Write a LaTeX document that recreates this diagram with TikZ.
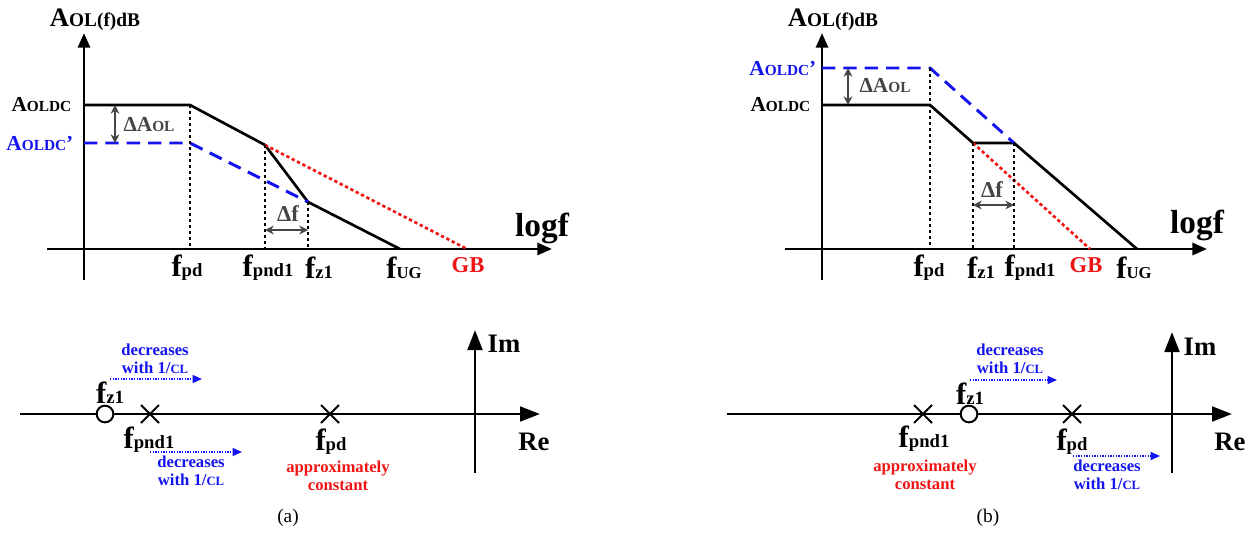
\documentclass[tikz,border=0pt]{standalone}
\usepackage{fontspec}
\setmainfont{Liberation Serif}
\usetikzlibrary{arrows.meta,positioning,shapes.misc}
\definecolor{pblue}{HTML}{1414F0}
\definecolor{pred}{HTML}{F01414}
\definecolor{dgray}{HTML}{454545}
\newcommand{\sm}[2]{{\fontsize{#1}{#1}\selectfont #2}}
\newcommand{\fsub}[1]{f\sm{14}{#1}}
\newcommand{\Aoldc}{A\sm{11.5}{OLDC}}
\newcommand{\decr}{decreases\\with 1/\sm{9.5}{CL}}

\begin{document}
\begin{tikzpicture}[x=0.75pt,y=-0.75pt,
  ax/.style={line width=2.2pt,-{Triangle[length=11pt,width=9pt]}},
  cplane/.style={line width=2.2pt,-{Triangle[length=15pt,width=11pt]}},
  resp/.style={line width=2pt},
  guide/.style={line width=1.6pt,dash pattern=on 2.5pt off 2pt},
  shifted/.style={pblue,line width=2.2pt,dash pattern=on 10pt off 6pt},
  gbline/.style={pred,line width=2pt,dash pattern=on 2.5pt off 2pt},
  delta/.style={dgray,line width=1.6pt,{Stealth[length=6.5pt,width=6.5pt]}-{Stealth[length=6.5pt,width=6.5pt]}},
  move/.style={pblue,line width=1pt,dash pattern=on 1pt off 1pt,-{Triangle[length=7pt,width=6pt]}},
  tick/.style={font=\fontsize{23}{25}\selectfont\bfseries},
  lvl/.style={font=\fontsize{16}{18}\selectfont\bfseries},
  ttl/.style={font=\fontsize{20}{22}\selectfont\bfseries},
  axl/.style={font=\fontsize{20}{22}\selectfont\bfseries},
  logl/.style={font=\fontsize{25}{27}\selectfont\bfseries},
  note/.style={font=\fontsize{12.5}{13.5}\selectfont\bfseries,align=center},
  caption/.style={font=\fontsize{14.5}{16}\selectfont},
  pole/.style={cross out,draw,line width=1.5pt,minimum size=12pt,inner sep=0pt},
  zero/.style={circle,draw,line width=1.5pt,fill=white,minimum size=12.5pt,inner sep=0pt}
]
\useasboundingbox (0,0) rectangle (1256,533);

% (a) magnitude plot
\coordinate (a0) at (84,249);
\draw[ax] (84,280) -- (84,33);
\draw[ax] (47,249) -- (552,249);
\node[ttl] (ttla) at (95,20) {A\sm{14.5}{OL(f)dB}};
\node[logl] (logfa) at (542,228) {logf};
\coordinate (a1) at (190,105);
\coordinate (a2) at (265,145);
\coordinate (a3) at (308,202);
\coordinate (a4) at (400,249);
\coordinate (agb) at (467,249);
\draw[resp] (84,105) -- (a1) -- (a2) -- (a3) -- (a4);
\draw[shifted] (84,143) -- (190,143) -- (a3);
\draw[gbline] (a2) -- (agb);
\foreach \p in {a1,a2,a3}
  \draw[guide] (\p) -- (\p |- a0);
\node[lvl,anchor=east] (dca) at (76,105) {\Aoldc};
\node[lvl,anchor=east,pblue] (dcpa) at (78,143) {\Aoldc’};
\draw[delta] (115,105) -- (115,143);
\node[lvl,dgray] (dAa) at (149,125) {ΔA\sm{11.5}{OL}};
\draw[delta] (a2 |- 0,230) -- (a3 |- 0,230);
\node[lvl,dgray,font=\fontsize{17}{18}\selectfont\bfseries] (dfa) at (288,214) {Δf};
\node[tick] (fpda) at (187,268) {\fsub{pd}};
\node[tick] (fpnda) at (268,268) {\fsub{pnd1}};
\node[tick] (fza) at (319,268) {\fsub{z1}};
\node[tick] (fuga) at (404,268) {f\sm{12.5}{UG}};
\node[tick,pred,font=\fontsize{17}{18}\selectfont\bfseries] (gba) at (468,265) {GB};

% (b) magnitude plot
\coordinate (b0) at (822,249);
\draw[ax] (822,280) -- (822,33);
\draw[ax] (785,249) -- (1207,249);
\node[ttl] (ttlb) at (833,20) {A\sm{14.5}{OL(f)dB}};
\node[logl] (logfb) at (1197,225) {logf};
\coordinate (b1) at (930,105);
\coordinate (b2) at (973,143);
\coordinate (b3) at (1014,143);
\coordinate (b4) at (1137,249);
\coordinate (bgb) at (1090,249);
\coordinate (b5) at (930,68);
\draw[resp] (822,105) -- (b1) -- (b2) -- (b3) -- (b4);
\draw[shifted] (822,68) -- (b5) -- (b3);
\draw[gbline] (b2) -- (bgb);
\foreach \p in {b5,b2,b3}
  \draw[guide] (\p) -- (\p |- b0);
\node[lvl,anchor=east] (dcb) at (815,105) {\Aoldc};
\node[lvl,anchor=east,pblue] (dcpb) at (821,68) {\Aoldc’};
\draw[delta] (848,68) -- (848,105);
\node[lvl,dgray] (dAb) at (885,86) {ΔA\sm{11.5}{OL}};
\draw[delta] (b2 |- 0,205) -- (b3 |- 0,205);
\node[lvl,dgray,font=\fontsize{17}{18}\selectfont\bfseries] (dfb) at (992,190) {Δf};
\node[tick] (fpdb) at (929,268) {\fsub{pd}};
\node[tick] (fzb) at (981,268) {\fsub{z1}};
\node[tick] (fpndb) at (1030,268) {\fsub{pnd1}};
\node[tick,pred,font=\fontsize{17}{18}\selectfont\bfseries] (gbb) at (1086,265) {GB};
\node[tick] (fugb) at (1134,268) {f\sm{12.5}{UG}};

% (a) s-plane
\draw[cplane] (20,414) -- (540,414);
\draw[cplane] (475,473) -- (475,330);
\node[axl] (ima) at (504,344) {Im};
\node[axl] (rea) at (534,442) {Re};
\node[zero] (za) at (105,414) {};
\node[pole] (pnda) at (150,414) {};
\node[pole] (pda) at (330,414) {};
\node[tick] (lza) at (110,393) {\fsub{z1}};
\node[tick] (lpnda) at (149,440) {\fsub{pnd1}};
\node[tick] (lpda) at (331,442) {\fsub{pd}};
\node[note,pred] (cona) at (338,476) {approximately\\constant};
\draw[move] (110,379) -- (202,379);
\node[note,pblue] (upa) at (155,359) {\decr};
\draw[move] (150,452) -- (242,452);
\node[note,pblue] (loa) at (191,471) {\decr};
\node[caption] (capa) at (288,518) {(a)};

% (b) s-plane
\draw[cplane] (727,414) -- (1232,414);
\draw[cplane] (1172,473) -- (1172,332);
\node[axl] (imb) at (1200,347) {Im};
\node[axl] (reb) at (1230,442) {Re};
\node[pole] (pndb) at (923,414) {};
\node[zero] (zb) at (969,414) {};
\node[pole] (pdb) at (1072,414) {};
\node[tick] (lzb) at (970,394) {\fsub{z1}};
\node[tick] (lpndb) at (924,439) {\fsub{pnd1}};
\node[tick] (lpdb) at (1072,442) {\fsub{pd}};
\node[note,pred] (conb) at (925,475) {approximately\\constant};
\draw[move] (970,380) -- (1057,380);
\node[note,pblue] (upb) at (1010,359) {\decr};
\draw[move] (1073,456) -- (1160,456);
\node[note,pblue] (lob) at (1107,475) {\decr};
\node[caption] (capb) at (988,518) {(b)};
\end{tikzpicture}
\end{document}
